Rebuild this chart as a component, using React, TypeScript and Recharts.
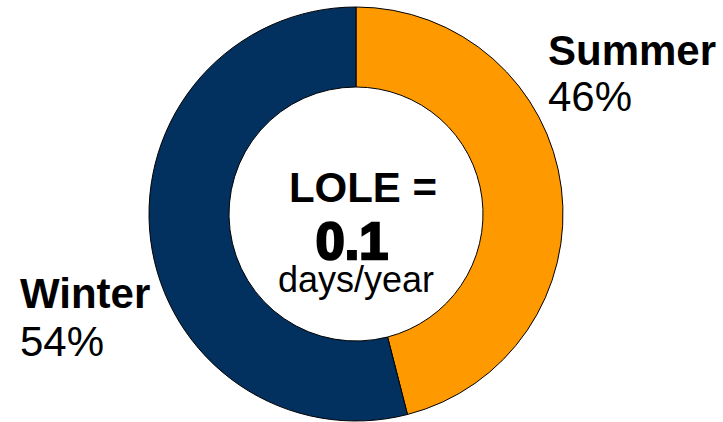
import { PieChart, Pie, Cell } from 'recharts';

const seasons = ['Summer', 'Winter'];
const shares = [46, 54];
const seasonColors = ['#FF9900', '#03315F'];
const centerTitle = 'LOLE =';
const centerValue = '0.1';
const centerUnit = 'days/year';

const data = seasons.map((name, i) => ({ name, value: shares[i] }));

const FONT = '"Liberation Sans", Arial, sans-serif';

export default function App() {
  return (
    <div style={{ position: 'absolute', left: 0, top: 0, width: 723, height: 422, background: '#fff' }}>
      <PieChart width={723} height={422} margin={{ top: 0, right: 0, bottom: 0, left: 0 }}>
        <Pie
          data={data}
          dataKey="value"
          nameKey="name"
          cx={356}
          cy={214}
          innerRadius={127}
          outerRadius={207}
          startAngle={90}
          endAngle={-270}
          stroke="#000"
          strokeWidth={1}
          isAnimationActive={false}
        >
          {data.map((entry, i) => (
            <Cell key={`cell-${entry.name}`} fill={seasonColors[i]} />
          ))}
        </Pie>
      </PieChart>
      <svg
        width={723}
        height={422}
        style={{ position: 'absolute', left: 0, top: 0, pointerEvents: 'none' }}
        fontFamily={FONT}
      >
        <text x={363} y={202} textAnchor="middle" fontSize={42} fontWeight="bold" fill="#000">
          {centerTitle}
        </text>
        <text x={352} y={259} textAnchor="middle" fontSize={52} fontWeight="bold" fill="#000" stroke="#000" strokeWidth={2.5}>
          {centerValue}
        </text>
        <text x={356} y={292} textAnchor="middle" fontSize={36} fill="#000">
          {centerUnit}
        </text>

        <text x={548} y={65} fontSize={42} fontWeight="bold" fill="#000">{data[0].name}</text>
        <text x={548} y={111} fontSize={42} fill="#000">{`${data[0].value}%`}</text>
        <text x={20} y={308} fontSize={42} fontWeight="bold" fill="#000">{data[1].name}</text>
        <text x={20} y={356} fontSize={42} fill="#000">{`${data[1].value}%`}</text>
      </svg>
    </div>
  );
}
